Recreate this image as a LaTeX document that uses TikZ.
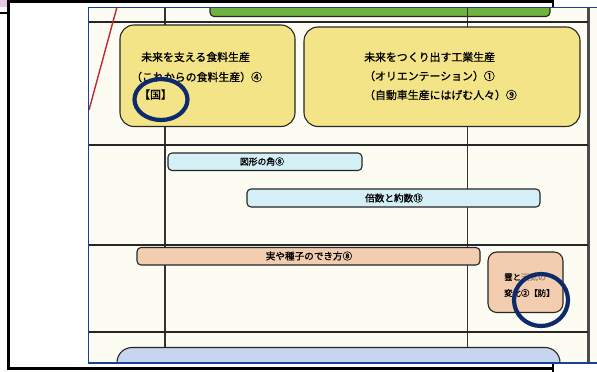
\documentclass[tikz,border=0pt]{standalone}
\usepackage{fontspec}
\newfontfamily\jp[FakeBold=1.2]{Noto Sans CJK JP}
\definecolor{cream}{HTML}{FDFCF3}
\definecolor{yelbox}{HTML}{F4E488}
\definecolor{cyanbar}{HTML}{D4F0F6}
\definecolor{orbar}{HTML}{F3CDB0}
\definecolor{grbar}{HTML}{6FB23E}
\definecolor{blbox}{HTML}{C6D6EE}
\definecolor{navy}{HTML}{0C2A6C}
\definecolor{scanblue}{HTML}{1A3F9A}
\definecolor{redline}{HTML}{C0282D}
\definecolor{pinkbox}{HTML}{E8C8E8}
\definecolor{fadetxt}{HTML}{A08470}
\tikzset{
  rule/.style={draw=black!85,line width=2.2pt},
  vrule/.style={draw=black!80,line width=1.1pt},
  box/.style={draw=black!85,line width=1.1pt},
  jbig/.style={inner sep=0pt,anchor=west,font=\jp\fontsize{10.9}{12}\selectfont},
  jmid/.style={inner sep=0pt,font=\jp\fontsize{9.6}{11}\selectfont},
  jsmall/.style={inner sep=0pt,anchor=west,font=\jp\fontsize{8.4}{10}\selectfont},
  ring/.style={draw=navy,line width=4.2pt}
}
\begin{document}
\begin{tikzpicture}[x=1pt,y=-1pt]
\useasboundingbox (0,0) rectangle (597,372);
\fill[white] (0,0) rectangle (597,372);
% outer frame behind the scan
\fill[pinkbox] (0,0) rectangle (7,7);
\draw[black,line width=1.2pt] (0,13) -- (8,13);
\draw[black,line width=2.6pt] (8.5,1.5) rectangle (553,368.5);
\draw[black,line width=2.6pt] (553,360) -- (553,372);
% scanned sheet
\begin{scope}
\clip (88,7) rectangle (597,363.5);
\fill[cream] (88,7) rectangle (597,363.5);
% green bar at top
\draw[box,fill=grbar,rounded corners=4pt] (210,-10) rectangle (550,16.5);
% table rules
\coordinate (vL) at (165,7);
\coordinate (vLb) at (165,363.5);
\coordinate (vM) at (467.5,7);
\coordinate (vMb) at (467.5,363.5);
\draw[vrule] (vL) -- (vLb);
\draw[vrule] (vM) -- (vMb);
\draw[draw=black!70,line width=3pt] (588,7) -- (588,363.5);
\draw[rule] (88,22) -- (588,22);
\draw[rule] (88,145) -- (588,145);
\draw[rule,line width=2.8pt] (88,245) -- (588,245);
\draw[rule] (88,332) -- (588,332);
% red diagonal
\draw[redline,line width=1.4pt] (117,7) -- (89,110);
% yellow boxes
\draw[box,fill=yelbox,rounded corners=14pt] (120,25) rectangle (295,126.5);
\draw[box,fill=yelbox,rounded corners=14pt] (304,27) rectangle (580,126.5);
\node[jbig] (a1) at (141,57) {未来を支える食料生産};
\node[jbig] (a2) at (131,77) {（これからの食料生産）④};
\node[jbig] (a3) at (139,94.5) {【国】};
\node[jbig] (b1) at (364,57) {未来をつくり出す工業生産};
\node[jbig] (b2) at (364,76) {（オリエンテーション）①};
\node[jbig] (b3) at (364,95) {（自動車生産にはげむ人々）⑨};
% cyan bars
\draw[box,fill=cyanbar,rounded corners=4pt] (168,153) rectangle (362,170.5);
\node[jmid,font=\jp\fontsize{8.8}{10}\selectfont] (c1) at (262,161.5) {図形の角⑧};
\draw[box,fill=cyanbar,rounded corners=4pt] (247,189) rectangle (540,207);
\node[jmid] (c2) at (394,198) {倍数と約数⑬};
% orange bar and box
\draw[box,fill=orbar,rounded corners=4pt] (137,247.5) rectangle (480,265);
\node[jmid] (d1) at (309,256) {実や種子のでき方⑧};
\draw[box,fill=orbar,rounded corners=9pt] (488,252) rectangle (563,312.5);
\node[jsmall] (e1) at (504,277) {雲と\textcolor{fadetxt}{天気の}};
\node[jsmall] (e2) at (504,293) {変化②【防】};
% bottom blue box
\draw[box,fill=blbox,rounded corners=15pt] (117,347.5) rectangle (560,400);
% blue border of the scan
\draw[scanblue,line width=1.5pt] (88.5,363.5) -- (88.5,7.5) -- (597,7.5);
\draw[scanblue,line width=1.5pt] (88,363.2) -- (597,363.2);
\end{scope}
% navy circles drawn over the scan
\draw[ring] (161,99.5) ellipse [x radius=26.5pt,y radius=20.5pt];
\draw[ring] (541,300) ellipse [x radius=27pt,y radius=26pt];
\end{tikzpicture}
\end{document}
